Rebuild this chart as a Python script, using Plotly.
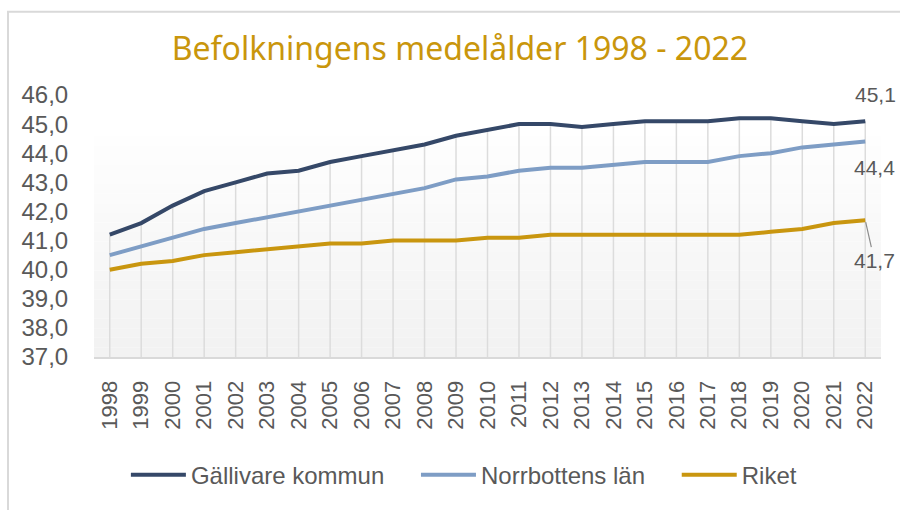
import plotly.graph_objects as go

years = list(range(1998, 2023))
gallivare = [41.2, 41.6, 42.2, 42.7, 43.0, 43.3, 43.4, 43.7, 43.9, 44.1, 44.3, 44.6, 44.8,
             45.0, 45.0, 44.9, 45.0, 45.1, 45.1, 45.1, 45.2, 45.2, 45.1, 45.0, 45.1]
norrbotten = [40.5, 40.8, 41.1, 41.4, 41.6, 41.8, 42.0, 42.2, 42.4, 42.6, 42.8, 43.1, 43.2,
              43.4, 43.5, 43.5, 43.6, 43.7, 43.7, 43.7, 43.9, 44.0, 44.2, 44.3, 44.4]
riket = [40.0, 40.2, 40.3, 40.5, 40.6, 40.7, 40.8, 40.9, 40.9, 41.0, 41.0, 41.0, 41.1,
         41.1, 41.2, 41.2, 41.2, 41.2, 41.2, 41.2, 41.2, 41.3, 41.4, 41.6, 41.7]
y_ticks = [37, 38, 39, 40, 41, 42, 43, 44, 45, 46]

FONT = "Liberation Sans"
GRAY = "#595959"
y_min, y_max = 37, 46
pad = "\u00a0" * 4  # extra room between legend entries

fig = go.Figure()

# drop lines (from highest series down to the axis)
tops = [max(a, b, c) for a, b, c in zip(gallivare, norrbotten, riket)]
fig.add_trace(go.Scatter(
    x=years, y=tops, mode="markers", marker=dict(size=1, opacity=0),
    error_y=dict(type="data", symmetric=False, array=[0] * len(tops),
                 arrayminus=[t - y_min for t in tops], color="#dcdcdc",
                 thickness=1.5, width=0),
    showlegend=False, hoverinfo="skip"))

series = [("Gällivare kommun" + pad, gallivare, "#354868"),
          ("Norrbottens län" + pad, norrbotten, "#7e9dc5"),
          ("Riket", riket, "#c9960f")]
for name, vals, col in series:
    fig.add_trace(go.Scatter(x=years, y=vals, mode="lines", name=name,
                             line=dict(color=col, width=4)))

# gradient background of plot area
n = 24
for i in range(n):
    g = int(242 + (255 - 242) * i / (n - 1))
    fig.add_shape(type="rect", xref="x domain", yref="y domain",
                  x0=0, x1=1, y0=0.88 * i / n, y1=0.88 * (i + 1) / n,
                  fillcolor=f"rgb({g},{g},{g})", line_width=0, layer="below")

# outer frame
fig.add_shape(type="rect", xref="paper", yref="paper",
              x0=-0.1093, x1=1.2, y0=-0.7, y1=1.318,
              line=dict(color="#d9d9d9", width=2), layer="below")

# end labels
lab_font = dict(size=21, color=GRAY, family=FONT)
fig.add_annotation(x=years[-1], y=gallivare[-1], text="45,1", showarrow=False,
                   xshift=10, yshift=27, font=lab_font)
fig.add_annotation(x=years[-1], y=norrbotten[-1], text="44,4", showarrow=False,
                   xshift=9, yshift=-26, font=lab_font)
fig.add_annotation(x=years[-1], y=riket[-1], text="41,7", showarrow=True,
                   arrowhead=0, arrowwidth=1.2, arrowcolor="#8c8c8c", ax=9, ay=40,
                   standoff=2, font=lab_font)

fig.update_layout(
    width=900, height=510,
    margin=dict(l=94, r=19, t=95, b=148),
    paper_bgcolor="white", plot_bgcolor="white",
    separators=",.",
    title=dict(text="Befolkningens medelålder 1998 - 2022", x=0.511, xanchor="center",
               y=0.904, yanchor="middle",
               font=dict(family="Noto Sans", size=32, color="#c9960c")),
    font=dict(family=FONT, color=GRAY),
    legend=dict(orientation="h", x=0.47, xanchor="center", y=-0.451, yanchor="middle",
                font=dict(size=24, color=GRAY, family=FONT), itemwidth=55,
                bgcolor="rgba(0,0,0,0)"),
    xaxis=dict(range=[1997.5, 2022.5], tickvals=years, ticktext=[str(y) for y in years],
               tickangle=-90, showgrid=False, zeroline=False, showline=True,
               linecolor="#d9d9d9", linewidth=2, automargin=False,
               ticks="outside", ticklen=13, tickcolor="rgba(0,0,0,0)",
               tickfont=dict(size=22, color=GRAY, family=FONT)),
    yaxis=dict(range=[y_min, y_max], tickvals=y_ticks, tickformat=".1f",
               showgrid=False, zeroline=False, showline=False, automargin=False,
               ticks="outside", ticklen=20, tickcolor="rgba(0,0,0,0)",
               tickfont=dict(size=24, color=GRAY, family=FONT)),
)

# the page's default body margin would shift the figure by 8px
fig.write_html("out.html", config={"displayModeBar": False},
               post_script="document.body.style.margin='0px';")
